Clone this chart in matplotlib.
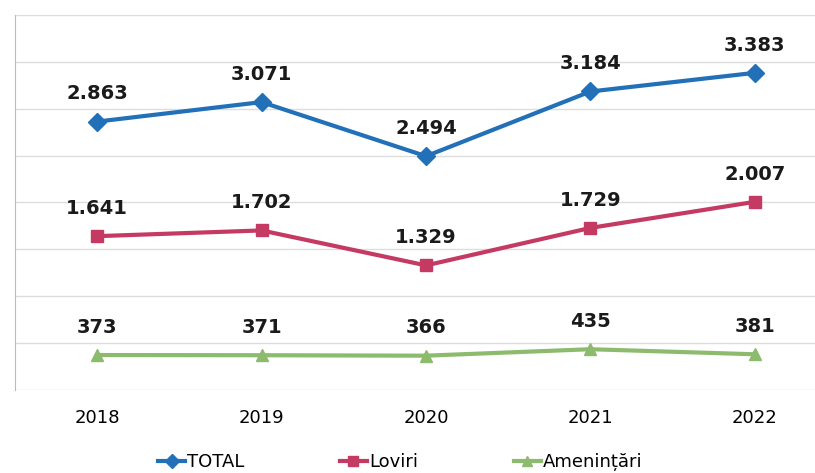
import numpy as np
import matplotlib
matplotlib.use('Agg')
import matplotlib.pyplot as plt

years = ["2018", "2019", "2020", "2021", "2022"]
total = [2863, 3071, 2494, 3184, 3383]
loviri = [1641, 1702, 1329, 1729, 2007]
amenintari = [373, 371, 366, 435, 381]

series = [
    ("TOTAL", total, "#2270B8", "D"),
    ("Loviri", loviri, "#C43A62", "s"),
    ("Amenințări", amenintari, "#8DBB6E", "^"),
]


def fmt(v):
    return "{:,}".format(v).replace(",", ".")


fig = plt.figure(figsize=(8.15, 4.73), dpi=100)
# plot area runs slightly past the right edge, like the cropped scan
ax = fig.add_axes([15/815, 1 - 390/473, 822/815, 375/473])

x = np.arange(len(years))
for name, vals, col, mk in series:
    ax.plot(x, vals, color=col, lw=3, marker=mk, markersize=9, label=name, zorder=3)
    for xi, v in zip(x, vals):
        ax.annotate(fmt(v), (xi, v), xytext=(0, 20), textcoords="offset points",
                    ha="center", va="center", fontsize=14, fontweight="bold", color="#1a1a1a")

ax.set_xlim(-0.5, 4.5)
ax.set_ylim(0, 4000)
ax.set_yticks(np.arange(0, 4001, 500))
ax.set_yticklabels([])
ax.tick_params(axis="y", length=0)
ax.tick_params(axis="x", length=0, labelsize=13, pad=14)
ax.set_xticks(x)
ax.set_xticklabels(years)
ax.grid(axis="y", color="#dddddd", lw=1)
ax.set_axisbelow(True)
for s in ["top", "right", "bottom"]:
    ax.spines[s].set_visible(False)
ax.spines["left"].set_color("#bbbbbb")

fig.legend(loc="center", bbox_to_anchor=(400/815, 1 - 462/473), ncol=3, frameon=False,
           fontsize=13, handlelength=1.5, handletextpad=0.1, columnspacing=5.3,
           markerscale=0.8)

fig.savefig("out.png", dpi=100)
